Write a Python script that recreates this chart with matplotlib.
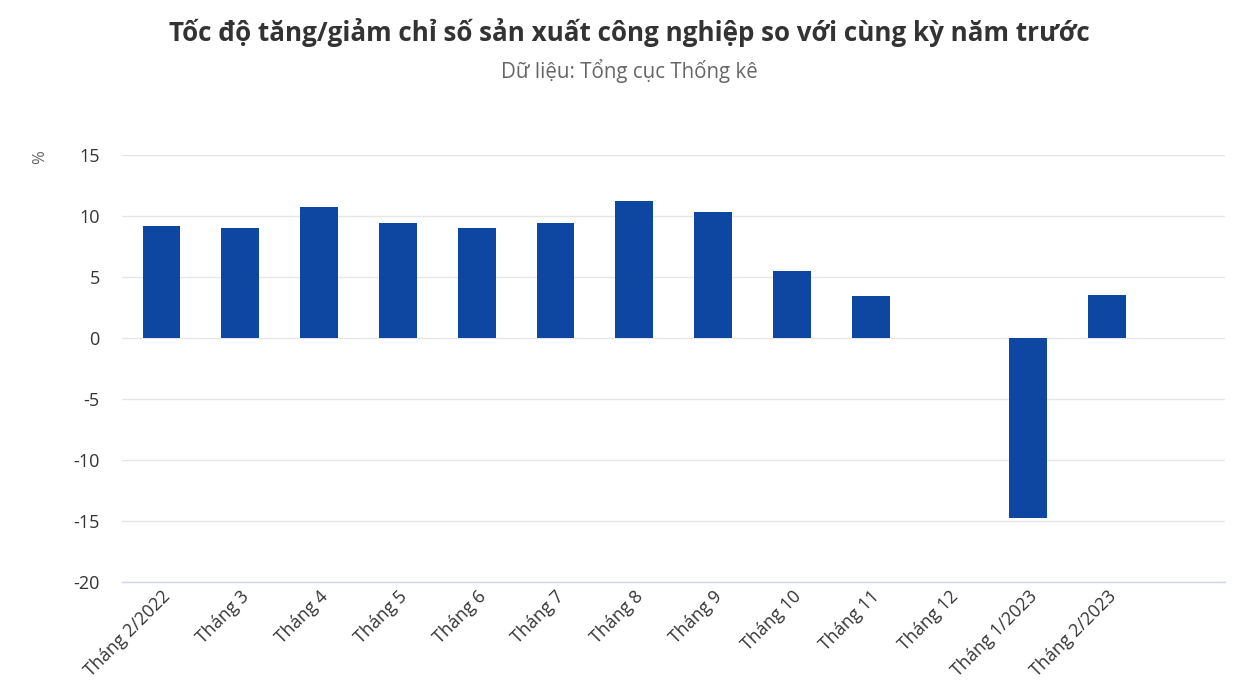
import matplotlib
matplotlib.use("Agg")
import matplotlib.pyplot as plt

categories = ["Tháng 2/2022", "Tháng 3", "Tháng 4", "Tháng 5", "Tháng 6", "Tháng 7",
              "Tháng 8", "Tháng 9", "Tháng 10", "Tháng 11", "Tháng 12", "Tháng 1/2023",
              "Tháng 2/2023"]
values = [9.2, 9.0, 10.7, 9.4, 9.0, 9.4, 11.2, 10.3, 5.5, 3.4, 0.0, -14.8, 3.5]
yticks = [-20, -15, -10, -5, 0, 5, 10, 15]

title = "Tốc độ tăng/giảm chỉ số sản xuất công nghiệp so với cùng kỳ năm trước"
subtitle = "Dữ liệu: Tổng cục Thống kê"

plt.rcParams['font.family'] = ['Open Sans', 'DejaVu Sans']

fig = plt.figure(figsize=(12.58, 6.86), dpi=100)
ax = fig.add_axes([0.097, 0.152, 0.877, 0.622])

x = list(range(len(categories)))
ax.bar(x, values, width=0.48, color="#0d47a1", zorder=3)

ax.set_xlim(-0.5, len(categories) + 0.5)
ax.set_ylim(-20, 15)
ax.set_yticks(yticks)
ax.set_yticklabels([str(v) for v in yticks], fontsize=13, color="#333333")
ax.grid(axis="y", color="#e6e6e6", linewidth=1, zorder=0)
ax.tick_params(axis="y", length=0, pad=16)
ax.tick_params(axis="x", length=0, pad=4)
ax.set_xticks(x)
ax.set_xticklabels(categories, rotation=45, ha="right", rotation_mode="anchor",
                   fontsize=12.8, color="#333333")
for s in ["top", "right", "left"]:
    ax.spines[s].set_visible(False)
ax.spines["bottom"].set_color("#ccd6eb")
ax.spines["bottom"].set_linewidth(1)

fig.text(0.5, 0.953, title, ha="center", va="center", fontsize=18.7,
         fontweight="bold", color="#333333")
fig.text(0.5, 0.897, subtitle, ha="center", va="center", fontsize=14.8,
         color="#666666")
fig.text(0.032, 0.771, "%", rotation=90, ha="center", va="center", fontsize=12,
         color="#666666")

fig.savefig("out.png", dpi=100)
